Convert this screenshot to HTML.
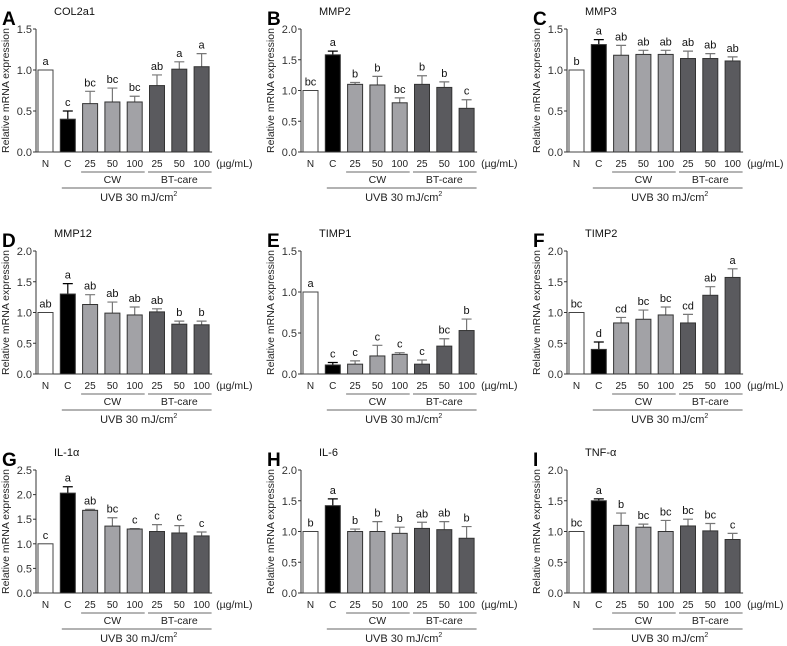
<!DOCTYPE html>
<html><head><meta charset="utf-8">
<style>
html,body{margin:0;padding:0;background:#fff;}
svg{display:block;font-family:"Liberation Sans",Arial,sans-serif;}
</style></head>
<body>
<svg id="fig" width="787" height="646" viewBox="0 0 787 646" xmlns="http://www.w3.org/2000/svg"></svg>
<script>
const categories = ["N","C","25","50","100","25","50","100"];
const panelLetters = ["A","B","C","D","E","F","G","H","I"];
const panelTitles = ["COL2a1","MMP2","MMP3","MMP12","TIMP1","TIMP2","IL-1\u03b1","IL-6","TNF-\u03b1"];
const yMaxes = [1.5,2.0,1.5,2.0,1.5,2.0,2.5,2.0,2.0];
const meansA = [1.0,0.40,0.59,0.61,0.61,0.81,1.01,1.04];
const errsA = [0,0.10,0.15,0.17,0.07,0.13,0.09,0.16];
const lettersA = ["a","c","bc","bc","bc","ab","a","a"];
const meansB = [1.0,1.58,1.10,1.09,0.80,1.10,1.05,0.71];
const errsB = [0,0.06,0.03,0.14,0.08,0.14,0.09,0.14];
const lettersB = ["bc","a","b","b","bc","b","b","c"];
const meansC = [1.0,1.31,1.18,1.19,1.19,1.14,1.14,1.11];
const errsC = [0,0.06,0.12,0.05,0.05,0.09,0.06,0.05];
const lettersC = ["b","a","ab","ab","ab","ab","ab","ab"];
const meansD = [1.0,1.30,1.13,0.99,0.96,1.01,0.81,0.80];
const errsD = [0,0.17,0.16,0.18,0.13,0.05,0.05,0.06];
const lettersD = ["ab","a","ab","ab","ab","ab","b","b"];
const meansE = [1.0,0.11,0.12,0.22,0.24,0.12,0.34,0.53];
const errsE = [0,0.03,0.04,0.13,0.02,0.05,0.09,0.14];
const lettersE = ["a","c","c","c","c","c","bc","b"];
const meansF = [1.0,0.40,0.83,0.89,0.96,0.83,1.28,1.57];
const errsF = [0,0.12,0.09,0.15,0.13,0.14,0.14,0.14];
const lettersF = ["bc","d","cd","bc","bc","cd","ab","a"];
const meansG = [1.0,2.03,1.68,1.36,1.30,1.25,1.22,1.16];
const errsG = [0,0.13,0.02,0.17,0.01,0.14,0.15,0.08];
const lettersG = ["c","a","ab","bc","c","c","c","c"];
const meansH = [1.0,1.42,1.00,1.00,0.97,1.05,1.03,0.89];
const errsH = [0,0.11,0.04,0.16,0.10,0.10,0.13,0.19];
const lettersH = ["b","a","b","b","b","ab","ab","b"];
const meansI = [1.0,1.50,1.10,1.07,1.00,1.09,1.01,0.87];
const errsI = [0,0.03,0.20,0.05,0.18,0.11,0.12,0.10];
const lettersI = ["bc","a","b","bc","bc","bc","bc","c"];

const allMeans=[meansA,meansB,meansC,meansD,meansE,meansF,meansG,meansH,meansI];
const allErrs=[errsA,errsB,errsC,errsD,errsE,errsF,errsG,errsH,errsI];
const allLetters=[lettersA,lettersB,lettersC,lettersD,lettersE,lettersF,lettersG,lettersH,lettersI];

const NS="http://www.w3.org/2000/svg";
const svg=document.getElementById('fig');
function mk(tag,attrs,parent,text){const e=document.createElementNS(NS,tag);for(const k in attrs)e.setAttribute(k,attrs[k]);if(text!==undefined)e.textContent=text;parent.appendChild(e);return e;}

const colAxis=[36,301,567];
const rowBase=[152,374,593];
const plotH=123, spacing=22.3, firstOff=9.5, barW=15;
const fills=["#ffffff","#000000","#a2a2a6","#a2a2a6","#a2a2a6","#5a5a5e","#5a5a5e","#5a5a5e"];

for(let p=0;p<9;p++){
  const ax=colAxis[p%3], y0=rowBase[Math.floor(p/3)], ymax=yMaxes[p];
  const ys=v=>y0-v/ymax*plotH;
  const xs=i=>ax+firstOff+i*spacing;
  const g=mk('g',{},svg);
  
  
  const pl=mk('text',{x:ax-34,y:y0-plotH-4,'font-size':19,'font-weight':'bold',fill:'#000'},g,panelLetters[p]);
   
  const tt=mk('text',{x:ax+18,y:y0-plotH-14,'font-size':11,fill:'#111'},g,panelTitles[p]);
   
  // y axis
  const xEnd=xs(7)+barW/2+3;
  const yAx=mk('line',{x1:ax,y1:y0,x2:ax,y2:y0-plotH,stroke:'#333','stroke-width':1},g);
   
  const xAx=mk('line',{x1:ax,y1:y0,x2:xEnd,y2:y0,stroke:'#333','stroke-width':1},g);
   
  for(let v=0;v<=ymax+1e-9;v+=0.5){
    const y=ys(v);
    mk('line',{x1:ax-3,y1:y,x2:ax,y2:y,stroke:'#333'},g);
    const tl=mk('text',{x:ax-4,y:y+4,'font-size':11,'text-anchor':'end',fill:'#333'},g,v.toFixed(1));
     
  }
  const yl=mk('text',{x:0,y:0,'font-size':10.5,'text-anchor':'middle',fill:'#222',transform:`translate(${ax-27},${y0-plotH/2}) rotate(-90)`},g,'Relative mRNA expression');
   
  const m=allMeans[p], e=allErrs[p], L=allLetters[p];
  for(let i=0;i<8;i++){
    const cx=xs(i), top=ys(m[i]);
    if(e[i]>0){
      const et=ys(m[i]+e[i]);
      const eb=mk('path',{d:`M${cx},${top}V${et}M${cx-5},${et}H${cx+5}`,stroke:i==1?'#000':'#777','stroke-width':1.2,fill:'none'},g);
       
    }
    const r=mk('rect',{x:cx-barW/2,y:top,width:barW,height:y0-top,fill:fills[i],stroke:i==0?'#444':'#333','stroke-width':1},g);
     
    const lt=mk('text',{x:cx,y:ys(m[i]+e[i])-5,'font-size':11,'text-anchor':'middle',fill:'#111'},g,L[i]);
     
    const xl=mk('text',{x:cx,y:y0+15,'font-size':10,'text-anchor':'middle',fill:'#222'},g,categories[i]);
     
  }
  const un=mk('text',{x:xEnd+4,y:y0+15,'font-size':10.5,fill:'#222'},g,'(\u00b5g/mL)');
   
  const cwL=mk('line',{x1:xs(2)-9,y1:y0+20,x2:xs(4)+10,y2:y0+20,stroke:'#888','stroke-width':1.2},g);
   
  const cwT=mk('text',{x:(xs(2)+xs(4))/2,y:y0+31,'font-size':10.5,'text-anchor':'middle',fill:'#222'},g,'CW');
   
  const btL=mk('line',{x1:xs(5)-9,y1:y0+20,x2:xs(7)+10,y2:y0+20,stroke:'#888','stroke-width':1.2},g);
   
  const btT=mk('text',{x:(xs(5)+xs(7))/2,y:y0+31,'font-size':10.5,'text-anchor':'middle',fill:'#222'},g,'BT-care');
   
  const uvL=mk('line',{x1:xs(1)-6,y1:y0+36,x2:xs(7)+10,y2:y0+36,stroke:'#999','stroke-width':1.4},g);
   
  const uvT=mk('text',{x:(xs(1)+xs(7))/2+4,y:y0+49,'font-size':11,'text-anchor':'middle',fill:'#222'},g);
   
  uvT.appendChild(document.createTextNode('UVB 30 mJ/cm'));
  mk('tspan',{'font-size':7,dy:-5},uvT,'2');
}
</script>
</body></html>
